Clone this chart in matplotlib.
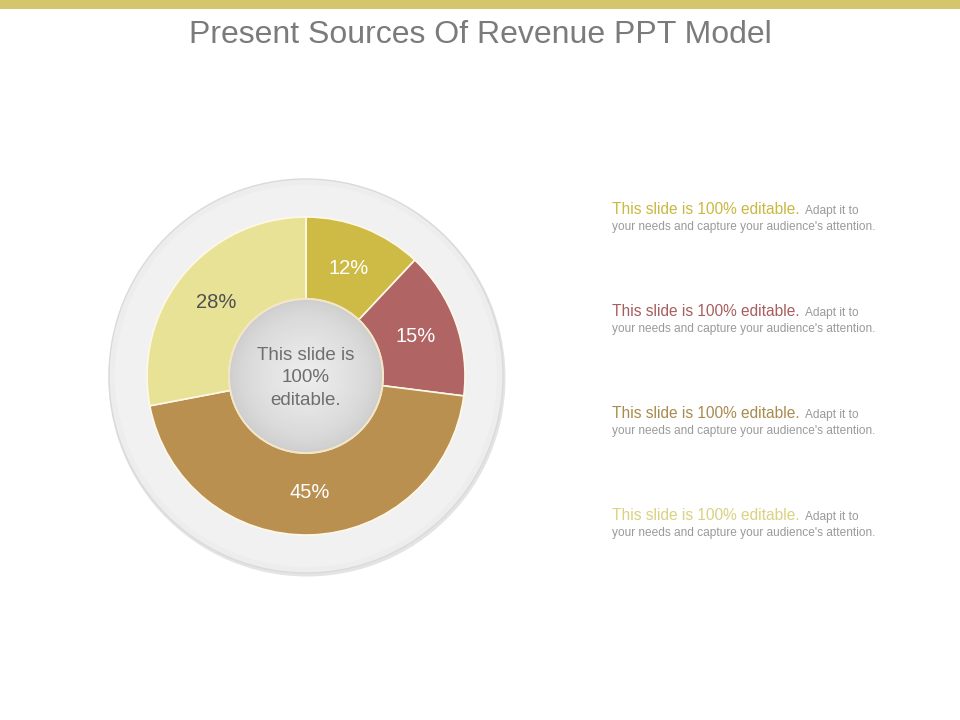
import matplotlib.pyplot as plt
from matplotlib.patches import Circle, Rectangle

# data
shares = [12, 15, 45, 28]
share_colors = ['#CDBB45', '#B06464', '#B99050', '#E8E296']
label_colors = ['white', 'white', 'white', '#505050']
note_colors = ['#C9B842', '#A85E5E', '#A98B4E', '#D9D282']
note_head = 'This slide is 100% editable.'
note_tail = 'Adapt it to'
note_line2 = "your needs and capture your audience's attention."
title = 'Present Sources Of Revenue PPT Model'
center_text = 'This slide is\n100%\neditable.'

plt.rcParams['font.family'] = ['Liberation Sans', 'DejaVu Sans']

W, H = 960, 720
fig = plt.figure(figsize=(9.6, 7.2), dpi=100)
ax = fig.add_axes([0, 0, 1, 1])

def py(y):
    # pixel row (from top) -> data y
    return H - y

cx, cy = 306, py(376)
r_out, r_in, r_ring = 159, 77, 197

# top bar and title
ax.add_patch(Rectangle((0, py(9)), W, 9, color='#D3C66B', lw=0))
ax.text(W / 2, py(35), title, ha='center', va='center',
        fontsize=23, color='#7B7B7B')

# outer grey ring with a faint shadow
ax.add_patch(Circle((cx + 1, cy - 2), r_ring + 1.5, color='#E4E4E4', lw=0, zorder=1))
ax.add_patch(Circle((cx, cy), r_ring, facecolor='#EDEDED', edgecolor='#DADADA',
                    lw=1.0, zorder=2))
ax.add_patch(Circle((cx, cy), r_ring - 6, facecolor='#F1F1F1', edgecolor='none',
                    zorder=2))

wedges, texts, autotexts = ax.pie(
    shares, colors=share_colors, startangle=90, counterclock=False,
    center=(cx, cy), radius=r_out, autopct='%d%%', pctdistance=0.73,
    wedgeprops=dict(width=r_out - r_in, edgecolor='#FFF8E8', linewidth=1.2),
    textprops=dict(fontsize=14.5))
for w in wedges:
    w.set_zorder(3)
for t, c in zip(autotexts, label_colors):
    t.set_color(c)
    t.set_zorder(4)

# inner circle with a soft radial gradient
n = 40
for i in range(n):
    f = i / (n - 1)
    rr = r_in * (1 - f * 0.98)
    g = 0.80 + 0.13 * f ** 0.6
    ax.add_patch(Circle((cx, cy), rr, color=(g, g, g), lw=0, zorder=5))
ax.add_patch(Circle((cx, cy), r_in, facecolor='none', edgecolor='#F3E6C8',
                    lw=1.5, zorder=6))
ax.text(cx, py(378), center_text, ha='center', va='center', fontsize=13.5,
        color='#6E6E6E', linespacing=1.4, zorder=7)

ax.set_xlim(0, W)
ax.set_ylim(0, H)
ax.set_aspect('equal')
ax.axis('off')

# notes on the right
fig.canvas.draw()
renderer = fig.canvas.get_renderer()
inv = ax.transData.inverted()
x0 = 612
for i, c in enumerate(note_colors):
    y1 = 214 + i * 102
    head = ax.text(x0, py(y1), note_head, ha='left', va='baseline',
                   fontsize=11.2, color=c)
    bb = head.get_window_extent(renderer)
    xe = inv.transform((bb.x1, bb.y0))[0]
    ax.text(xe + 5, py(y1), note_tail, ha='left', va='baseline',
            fontsize=8.6, color='#9A9A9A')
    ax.text(x0, py(y1 + 16), note_line2, ha='left', va='baseline',
            fontsize=8.6, color='#9A9A9A')

fig.savefig('out.png', dpi=100, facecolor='white')
